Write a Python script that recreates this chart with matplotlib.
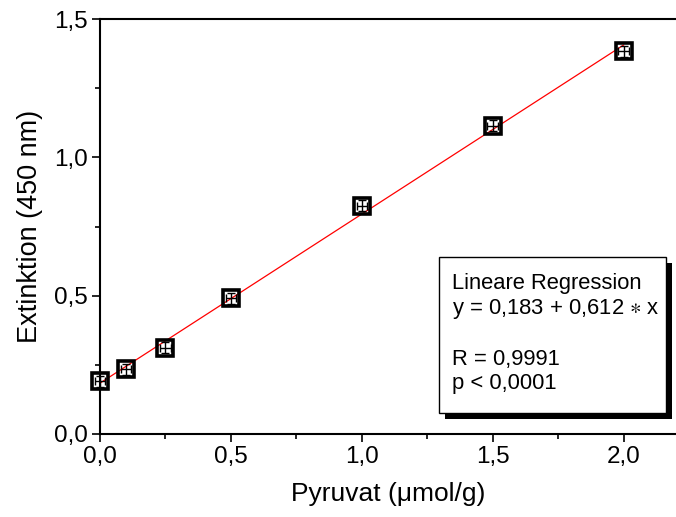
import matplotlib.pyplot as plt
import numpy as np
from matplotlib.ticker import MultipleLocator, FuncFormatter

plt.rcParams['font.family'] = ['Liberation Sans', 'DejaVu Sans']
plt.rcParams['mathtext.fontset'] = 'stixsans'

pyruvat = [0.0, 0.1, 0.25, 0.5, 1.0, 1.5, 2.0]
extinktion = [0.19, 0.233, 0.312, 0.491, 0.826, 1.114, 1.385]
fehler_y = [0.02, 0.02, 0.02, 0.02, 0.02, 0.02, 0.02]
fehler_x = [0.02, 0.02, 0.02, 0.02, 0.02, 0.02, 0.02]

# Regression
achsenabschnitt = 0.183
steigung = 0.612
fit_x = [0.0, 2.0]

fig = plt.figure(figsize=(6.76, 5.17), dpi=100)
ax = fig.add_axes([100 / 676, 83.3 / 517, 576 / 676, 414.4 / 517])

fx = np.array(fit_x)
ax.plot(fx, achsenabschnitt + steigung * fx, color='red', lw=0.9, zorder=2)

ax.errorbar(pyruvat, extinktion, yerr=fehler_y, xerr=fehler_x, fmt='none',
            ecolor='black', elinewidth=1.0, capsize=3.2, capthick=1.0,
            zorder=3, clip_on=False)
ax.plot(pyruvat, extinktion, ls='none', marker='s', ms=11.5, mfc='none',
        mec='black', mew=2.6, zorder=4, clip_on=False)

ax.set_xlim(0, 2.2)
ax.set_ylim(0, 1.5)
ax.xaxis.set_major_locator(MultipleLocator(0.5))
ax.xaxis.set_minor_locator(MultipleLocator(0.25))
ax.yaxis.set_major_locator(MultipleLocator(0.5))
ax.yaxis.set_minor_locator(MultipleLocator(0.25))
komma = FuncFormatter(lambda v, p: f"{v:.1f}".replace('.', ','))
ax.xaxis.set_major_formatter(komma)
ax.yaxis.set_major_formatter(komma)
ax.tick_params(which='major', direction='out', length=6, width=1.2,
               labelsize=17.5, pad=3)
ax.tick_params(which='minor', direction='out', length=3.5, width=1.2)
ax.spines['right'].set_visible(False)
for s in ['left', 'top', 'bottom']:
    ax.spines[s].set_linewidth(1.5)

ax.set_xlabel('Pyruvat (\u03bcmol/g)', fontsize=19, labelpad=10)
ax.set_ylabel('Extinktion (450 nm)', fontsize=19.5, labelpad=8)

# Textbox mit Schatten
txt = ("Lineare Regression\n"
       f"y = {achsenabschnitt:.3f} + {steigung:.3f} $\\ast$ x\n\n"
       "R = 0,9991\np < 0,0001").replace('0.', '0,')
ax.text(452 / 676, (517 - 273) / 517, txt, transform=fig.transFigure,
        fontsize=15.8, va='top', ha='left', linespacing=1.2, zorder=10)
schatten = plt.Rectangle((445 / 676, (517 - 419) / 517), 227 / 676, 156 / 517,
                         transform=fig.transFigure, facecolor='black',
                         edgecolor='none', zorder=8, clip_on=False)
box = plt.Rectangle((439 / 676, (517 - 413) / 517), 227 / 676, 156 / 517,
                    transform=fig.transFigure, facecolor='white',
                    edgecolor='black', lw=1.0, zorder=9, clip_on=False)
ax.add_artist(schatten)
ax.add_artist(box)

fig.savefig('out.png', dpi=100)
